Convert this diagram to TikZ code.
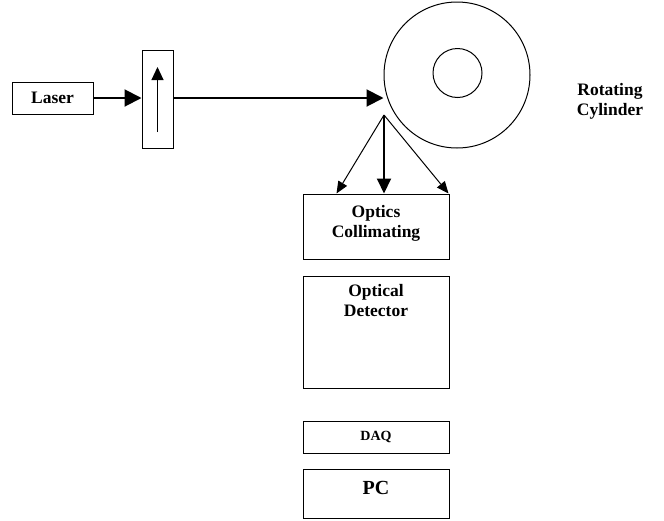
\documentclass[tikz,border=0pt]{standalone}
\usepackage{fontspec}
\setmainfont{Liberation Serif}
\usetikzlibrary{arrows.meta}
\tikzset{
  boxnode/.style={draw, line width=1pt, rectangle, inner sep=0pt},
  lbl/.style={font=\bfseries\fontsize{17.5}{20}\selectfont, align=center, inner sep=0pt},
  bigarrow/.style={line width=2pt, -{Triangle[length=17pt,width=17pt]}},
  midarrow/.style={line width=2pt, -{Triangle[length=15pt,width=14pt]}},
  thinarrow/.style={line width=1pt, -{Triangle[length=12pt,width=10pt]}},
  ringnode/.style={draw, line width=1pt, circle, inner sep=0pt}
}
\begin{document}
\begin{tikzpicture}[x=1pt,y=-1pt]
\useasboundingbox (0,0) rectangle (664,520);
% nodes
\node[boxnode, minimum width=81pt, minimum height=32pt, lbl] (laser) at (52.5,98) {Laser};
\node[boxnode, minimum width=31pt, minimum height=98pt] (pol) at (157.5,99) {};
\node[ringnode, minimum size=146pt] (cyl) at (457,75) {};
\node[ringnode, minimum size=49pt] (core) at (457.5,73) {};
\node[lbl] (rot) at (610,101) {Rotating\\Cylinder};
\coordinate (s) at (384,115);
\node[boxnode, minimum width=146pt, minimum height=65pt] (optics) at (376,226.5) {};
\node[lbl] (opticstext) at (376,223) {Optics\\Collimating};
\node[boxnode, minimum width=146pt, minimum height=112pt] (det) at (376,332) {};
\node[lbl, anchor=north] (dettext) at ([yshift=-9pt]det.north) {Optical\\Detector};
\node[boxnode, minimum width=146pt, minimum height=32pt, font=\bfseries\fontsize{14}{16}\selectfont] (daq) at (376,437) {DAQ};
\node[boxnode, minimum width=146pt, minimum height=49pt] (pc) at (376,493.5) {};
\node[font=\bfseries\fontsize{20}{22}\selectfont, inner sep=0pt] (pctext) at (376,488) {PC};
% connectors
\draw[bigarrow] (laser.east) -- (laser.east -| pol.west);
\draw[bigarrow] ([yshift=1pt]pol.east) -- ([yshift=1pt]pol.east -| cyl.west);
\draw[line width=1pt, -{Triangle[length=13pt,width=12pt]}] ([yshift=-33pt]pol.center) -- ([yshift=32pt]pol.center);
\draw[thinarrow] (s) -- ([xshift=34pt]optics.north west);
\draw[midarrow] (s) -- (s |- optics.north);
\draw[thinarrow] (s) -- ([xshift=-1pt]optics.north east);
\end{tikzpicture}
\end{document}
